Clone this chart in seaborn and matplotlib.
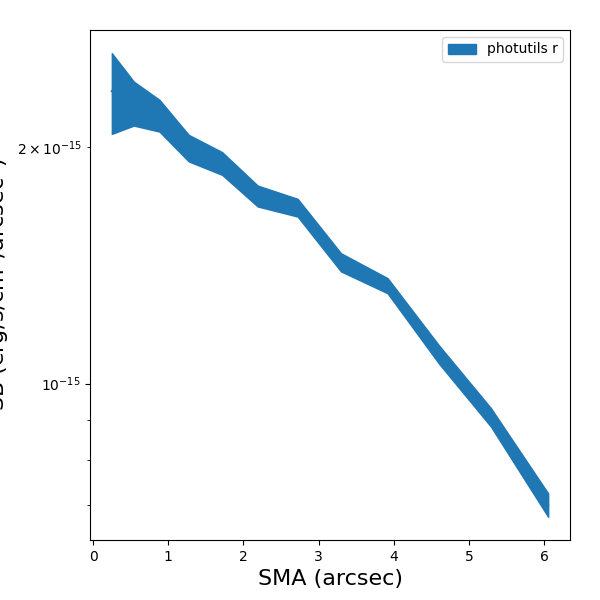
import numpy as np
import matplotlib
matplotlib.use("Agg")
import matplotlib.pyplot as plt
import seaborn as sns

# Surface brightness profile
sma = [0.25, 0.542, 0.883, 1.272, 1.716, 2.189, 2.720, 3.296, 3.915, 4.60, 5.288, 6.05]
sb = [2.355e-15, 2.2755e-15, 2.194e-15, 1.9945e-15, 1.9065e-15, 1.733e-15,
      1.6745e-15, 1.427e-15, 1.3325e-15, 1.089e-15, 0.9065e-15, 0.701e-15]
sb_err = [0.277e-15, 0.1465e-15, 0.102e-15, 0.0775e-15, 0.0635e-15, 0.053e-15,
          0.0435e-15, 0.038e-15, 0.0295e-15, 0.029e-15, 0.0245e-15, 0.024e-15]

sma = np.array(sma)
sb = np.array(sb)
sb_err = np.array(sb_err)

fig, ax = plt.subplots(figsize=(6, 6), dpi=100)
fig.subplots_adjust(left=0.15, right=0.95, bottom=0.1, top=0.95)

sns.lineplot(x=sma, y=sb, ax=ax, color="C0")
ax.fill_between(sma, sb - sb_err, sb + sb_err, color="C0", label="photutils r")

ax.set_yscale("log")
ax.set_xlabel("SMA (arcsec)", fontsize=16)
ax.set_ylabel("SB (erg/s/cm$^2$/arcsec$^2$)", fontsize=16)
ax.legend(loc="upper right")

fig.savefig("out.png", dpi=100)
